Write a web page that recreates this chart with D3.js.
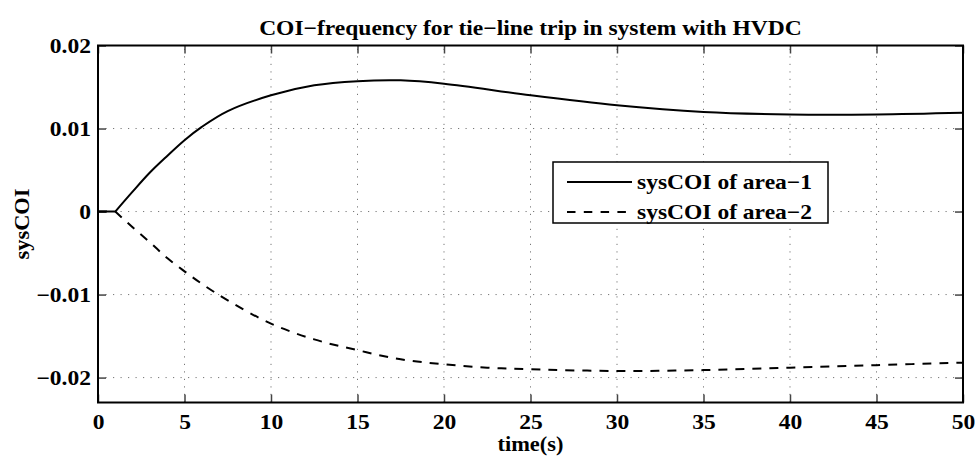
<!DOCTYPE html>
<html>
<head>
<meta charset="utf-8">
<title>COI-frequency for tie-line trip</title>
<style>
  body { margin: 0; background: #fff; }
  svg text { font-family: "Liberation Serif", "DejaVu Serif", serif; font-weight: bold; fill: #000; }
</style>
<script src="https://d3js.org/d3.v7.min.js"></script>
</head>
<body>
<script>
// values
var timeArea1 = [0, 1, 2, 3, 4, 5, 6, 7.5, 10, 12.5, 15, 17.5, 20, 25, 30, 35, 40, 45, 50];
var sysCOI1   = [0, 0, 0.0024, 0.0047, 0.0067, 0.0086, 0.0102, 0.0121, 0.0140, 0.0152, 0.0157, 0.0158,
                 0.0154, 0.0140, 0.0128, 0.0120, 0.0117, 0.0117, 0.0119];
var timeArea2 = [0, 1, 2, 3, 4, 5, 6, 7.5, 10, 12.5, 15, 17.5, 20, 22.5, 25, 30, 35, 40, 45, 50];
var sysCOI2   = [0, 0, -0.0019, -0.0037, -0.0056, -0.0072, -0.0087, -0.0107, -0.0135, -0.0154, -0.0167,
                 -0.0178, -0.0184, -0.0188, -0.0190, -0.0192, -0.0191, -0.0188, -0.0185, -0.0182];
var xTicks = [0, 5, 10, 15, 20, 25, 30, 35, 40, 45, 50];
var yTicks = [-0.02, -0.01, 0, 0.01, 0.02];
var seriesNames = ["sysCOI of area\u22121", "sysCOI of area\u22122"];

var width = 980, height = 459;
var margin = {left: 98, right: 17, top: 45.5, bottom: 56.5};
var stretch = 1.12; // reference font runs wider than Times

var svg = d3.select("body").append("svg")
    .attr("width", width)
    .attr("height", height);

svg.append("rect").attr("width", width).attr("height", height).attr("fill", "white");

var x = d3.scaleLinear().domain([0, 50]).range([margin.left, width - margin.right]);
var y = d3.scaleLinear().domain([-0.023, 0.02]).range([height - margin.bottom, margin.top]);

// dotted grid
var grid = svg.append("g").attr("stroke", "#777").attr("stroke-width", 1).attr("stroke-dasharray", "1.2,6.3");
grid.selectAll(".gx").data(xTicks.slice(1, -1)).enter().append("line")
    .attr("x1", d => x(d)).attr("x2", d => x(d))
    .attr("y1", y.range()[0]).attr("y2", y.range()[1]);
grid.selectAll(".gy").data(yTicks.filter(d => d < 0.02)).enter().append("line")
    .attr("x1", x.range()[0]).attr("x2", x.range()[1])
    .attr("y1", d => y(d)).attr("y2", d => y(d));

// axes with inward ticks on all four sides
function fmt(d) { return d === 0 ? "0" : d3.format(".2f")(d).replace("-", "\u2212"); }

var xBottom = svg.append("g").attr("transform", "translate(0," + y.range()[0] + ")")
    .call(d3.axisBottom(x).tickValues(xTicks).tickSizeInner(-8).tickSizeOuter(0).tickPadding(12).tickFormat(d3.format("d")));
var xTop = svg.append("g").attr("transform", "translate(0," + y.range()[1] + ")")
    .call(d3.axisTop(x).tickValues(xTicks).tickSizeInner(-8).tickSizeOuter(0).tickFormat(""));
var yLeft = svg.append("g").attr("transform", "translate(" + x.range()[0] + ",0)")
    .call(d3.axisLeft(y).tickValues(yTicks).tickSizeInner(-8).tickSizeOuter(0).tickPadding(7).tickFormat(fmt));
var yRight = svg.append("g").attr("transform", "translate(" + x.range()[1] + ",0)")
    .call(d3.axisRight(y).tickValues(yTicks).tickSizeInner(-8).tickSizeOuter(0).tickFormat(""));

[xBottom, xTop, yLeft, yRight].forEach(function(g) {
  g.select(".domain").remove();
  g.selectAll(".tick line").attr("stroke", "#444").attr("stroke-width", 1.5);
  g.selectAll("text").attr("font-size", 21).attr("font-family", null);
});
xBottom.selectAll("text").attr("dy", "0.71em");

// box
svg.append("rect")
    .attr("x", x.range()[0]).attr("y", y.range()[1])
    .attr("width", x.range()[1] - x.range()[0])
    .attr("height", y.range()[0] - y.range()[1])
    .attr("fill", "none").attr("stroke", "#000").attr("stroke-width", 2);

// curves: flat part straight, then smooth
var line = d3.line().x(d => x(d[0])).y(d => y(d[1])).curve(d3.curveCatmullRom.alpha(0.5));
function pathFor(ts, vs) {
  var pts = ts.map((t, i) => [t, vs[i]]);
  var head = "M" + x(pts[0][0]) + "," + y(pts[0][1]);
  return head + line(pts.slice(1)).replace(/^M/, "L");
}

svg.append("path")
    .attr("d", pathFor(timeArea1, sysCOI1))
    .attr("fill", "none").attr("stroke", "#000").attr("stroke-width", 2);
svg.append("path")
    .attr("d", pathFor(timeArea2, sysCOI2))
    .attr("fill", "none").attr("stroke", "#000").attr("stroke-width", 2)
    .attr("stroke-dasharray", "9,8");

// titles
svg.append("text")
    .attr("x", (x.range()[0] + x.range()[1]) / 2).attr("y", 35)
    .attr("text-anchor", "middle").attr("font-size", 21)
    .text("COI\u2212frequency for tie\u2212line trip in system with HVDC");
svg.append("text")
    .attr("x", (x.range()[0] + x.range()[1]) / 2).attr("y", 451)
    .attr("text-anchor", "middle").attr("font-size", 20)
    .text("time(s)");
svg.append("text")
    .attr("transform", "translate(29," + (y.range()[0] + y.range()[1]) / 2 + ") rotate(-90)")
    .attr("text-anchor", "middle").attr("font-size", 20)
    .text("sysCOI");

// legend
var legend = svg.append("g").attr("transform", "translate(553,162)");
legend.append("rect").attr("width", 275).attr("height", 61)
    .attr("fill", "white").attr("stroke", "#000").attr("stroke-width", 1.5);
var rows = legend.selectAll(".row").data(seriesNames).enter().append("g")
    .attr("transform", (d, i) => "translate(0," + (20 + i * 30) + ")");
rows.append("line").attr("x1", 14).attr("x2", 79)
    .attr("stroke", "#000").attr("stroke-width", 2)
    .attr("stroke-dasharray", (d, i) => i === 1 ? "8.5,8.3" : null);
rows.append("text").attr("x", 84).attr("dy", "0.35em").attr("font-size", 21).text(d => d);

// widen every label a little to match the reference typeface
svg.selectAll("text").each(function() {
  var len = this.getComputedTextLength();
  if (len > 0) d3.select(this).attr("textLength", len * stretch).attr("lengthAdjust", "spacingAndGlyphs");
});
</script>
</body>
</html>
